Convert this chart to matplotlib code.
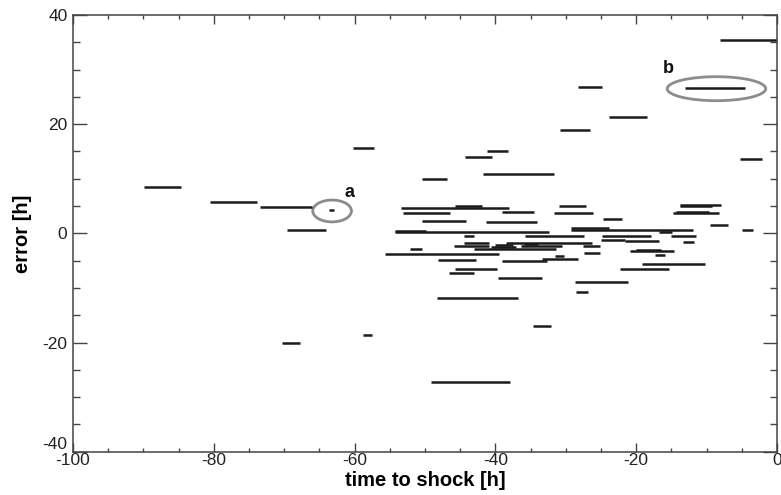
import matplotlib
matplotlib.use("Agg")
import matplotlib.pyplot as plt
import matplotlib.patches as mpatches
from matplotlib.ticker import MultipleLocator

plt.rcParams["font.family"] = ["Liberation Sans", "DejaVu Sans"]
plt.rcParams["axes.unicode_minus"] = False

# forecast intervals: start time, end time (time to shock, h) and error (h)
t_start = [
    -89.9, -80.5, -73.5, -69.6, -63.6, -60.2, -70.3, -58.8, -55.7, -8.1,
    -13.0, -28.3, -23.9, -30.8, -41.2, -44.3, -41.7, -50.4, -5.2, -5.0,
    -9.5, -53.4, -45.8, -53.1, -39.1, -50.4, -41.3, -54.2, -54.2, -44.5,
    -35.8, -44.4, -45.9, -38.5, -40.6, -36.4, -43.0, -52.2, -48.2, -39.1,
    -33.4, -31.6, -45.8, -46.6, -39.6, -48.3, -49.1, -34.7, -28.7, -28.6,
    -19.2, -22.3, -20.9, -17.3, -27.4, -27.6, -21.6, -13.4, -13.8, -13.8,
    -14.8, -14.4, -30.9, -31.7, -24.7, -29.3, -29.3, -16.8, -24.8, -15.1,
    -25.0, -40.0, -36.0, -20.0,
]
t_end = [
    -84.7, -73.8, -66.1, -64.1, -62.9, -57.2, -67.7, -57.6, -39.5, 0.0,
    -4.5, -24.9, -18.5, -26.6, -38.2, -40.5, -31.7, -46.9, -2.2, -3.4,
    -7.0, -38.0, -41.9, -46.4, -34.5, -44.2, -34.1, -32.4, -49.8, -43.1,
    -27.4, -40.9, -40.9, -26.3, -37.1, -30.5, -31.4, -50.4, -42.7, -32.7,
    -28.3, -30.2, -39.8, -43.0, -33.4, -36.8, -37.9, -32.1, -21.1, -26.8,
    -10.2, -15.3, -14.6, -15.9, -25.2, -25.1, -16.7, -11.8, -7.9, -9.3,
    -8.2, -9.6, -27.1, -26.2, -22.0, -12.0, -23.8, -14.9, -17.9, -11.5,
    -21.6, -37.5, -34.0, -16.5,
]
error = [
    8.4, 5.7, 4.9, 0.7, 4.3, 15.6, -20.1, -18.7, -3.8, 35.5,
    26.7, 26.8, 21.4, 19.0, 15.1, 14.0, 10.9, 9.9, 13.7, 0.6,
    1.5, 4.7, 5.05, 3.8, 4.0, 2.2, 2.1, 0.3, 0.5, -0.5,
    -0.5, -1.8, -2.3, -1.8, -2.5, -2.3, -2.9, -2.9, -4.9, -5.1,
    -4.7, -4.2, -6.5, -7.2, -8.2, -11.9, -27.3, -16.9, -9.0, -10.8,
    -5.7, -6.5, -3.3, -4.0, -3.6, -2.3, -1.4, -1.5, 5.2, 5.0,
    3.8, 4.0, 5.0, 3.8, 2.6, 0.7, 0.9, 0.3, -0.5, -0.5,
    -1.2, -2.2, -2.0, -3.1,
]

# highlighted cases
marks = ["a", "b"]
mark_x = [-63.2, -8.6]
mark_y = [4.1, 26.5]
mark_w = [5.5, 14.0]
mark_h = [4.0, 4.4]
label_x = [-60.7, -15.4]
label_y = [7.4, 30.2]

fig = plt.figure(figsize=(7.81, 4.95), dpi=100)
ax = fig.add_axes([0.0935, 0.0875, 0.9014, 0.8822])

ax.hlines(error, t_start, t_end, colors="#1a1a1a", linewidth=1.8)

for i, m in enumerate(marks):
    ell = mpatches.Ellipse((mark_x[i], mark_y[i]), mark_w[i], mark_h[i],
                           fill=False, edgecolor="#8c8c8c", linewidth=2.0)
    ax.add_patch(ell)
    ax.text(label_x[i], label_y[i], m, ha="center", va="center",
            fontsize=13, fontweight="bold", color="#111111")

ax.set_xlim(-100, 0)
ax.set_ylim(-40, 40)
ax.xaxis.set_major_locator(MultipleLocator(20))
ax.xaxis.set_minor_locator(MultipleLocator(5))
ax.yaxis.set_major_locator(MultipleLocator(20))
ax.yaxis.set_minor_locator(MultipleLocator(5))

ax.tick_params(axis="both", which="both", direction="in", top=True, right=True,
               colors="#444444", labelcolor="#222222", labelsize=12.5)
ax.tick_params(axis="x", which="major", length=6.5, width=1, pad=1)
ax.tick_params(axis="x", which="minor", length=3.2, width=1)
ax.tick_params(axis="y", which="major", length=10, width=1, pad=4)
ax.tick_params(axis="y", which="minor", length=5, width=1)
for s in ax.spines.values():
    s.set_color("#444444")
    s.set_linewidth(1.1)

ax.set_xlabel("time to shock [h]", fontsize=14.5, fontweight="bold")
ax.set_ylabel("error [h]", fontsize=14.5, fontweight="bold")
ax.xaxis.set_label_coords(0.5, -0.045)
ax.yaxis.set_label_coords(-0.058, 0.5)

# lift the bottom y label so it clears the "-100" below it
fig.canvas.draw()
for lbl in ax.yaxis.get_majorticklabels():
    if lbl.get_text() == "-40":
        lbl.set_verticalalignment("bottom")

fig.savefig("out.png", dpi=100)
